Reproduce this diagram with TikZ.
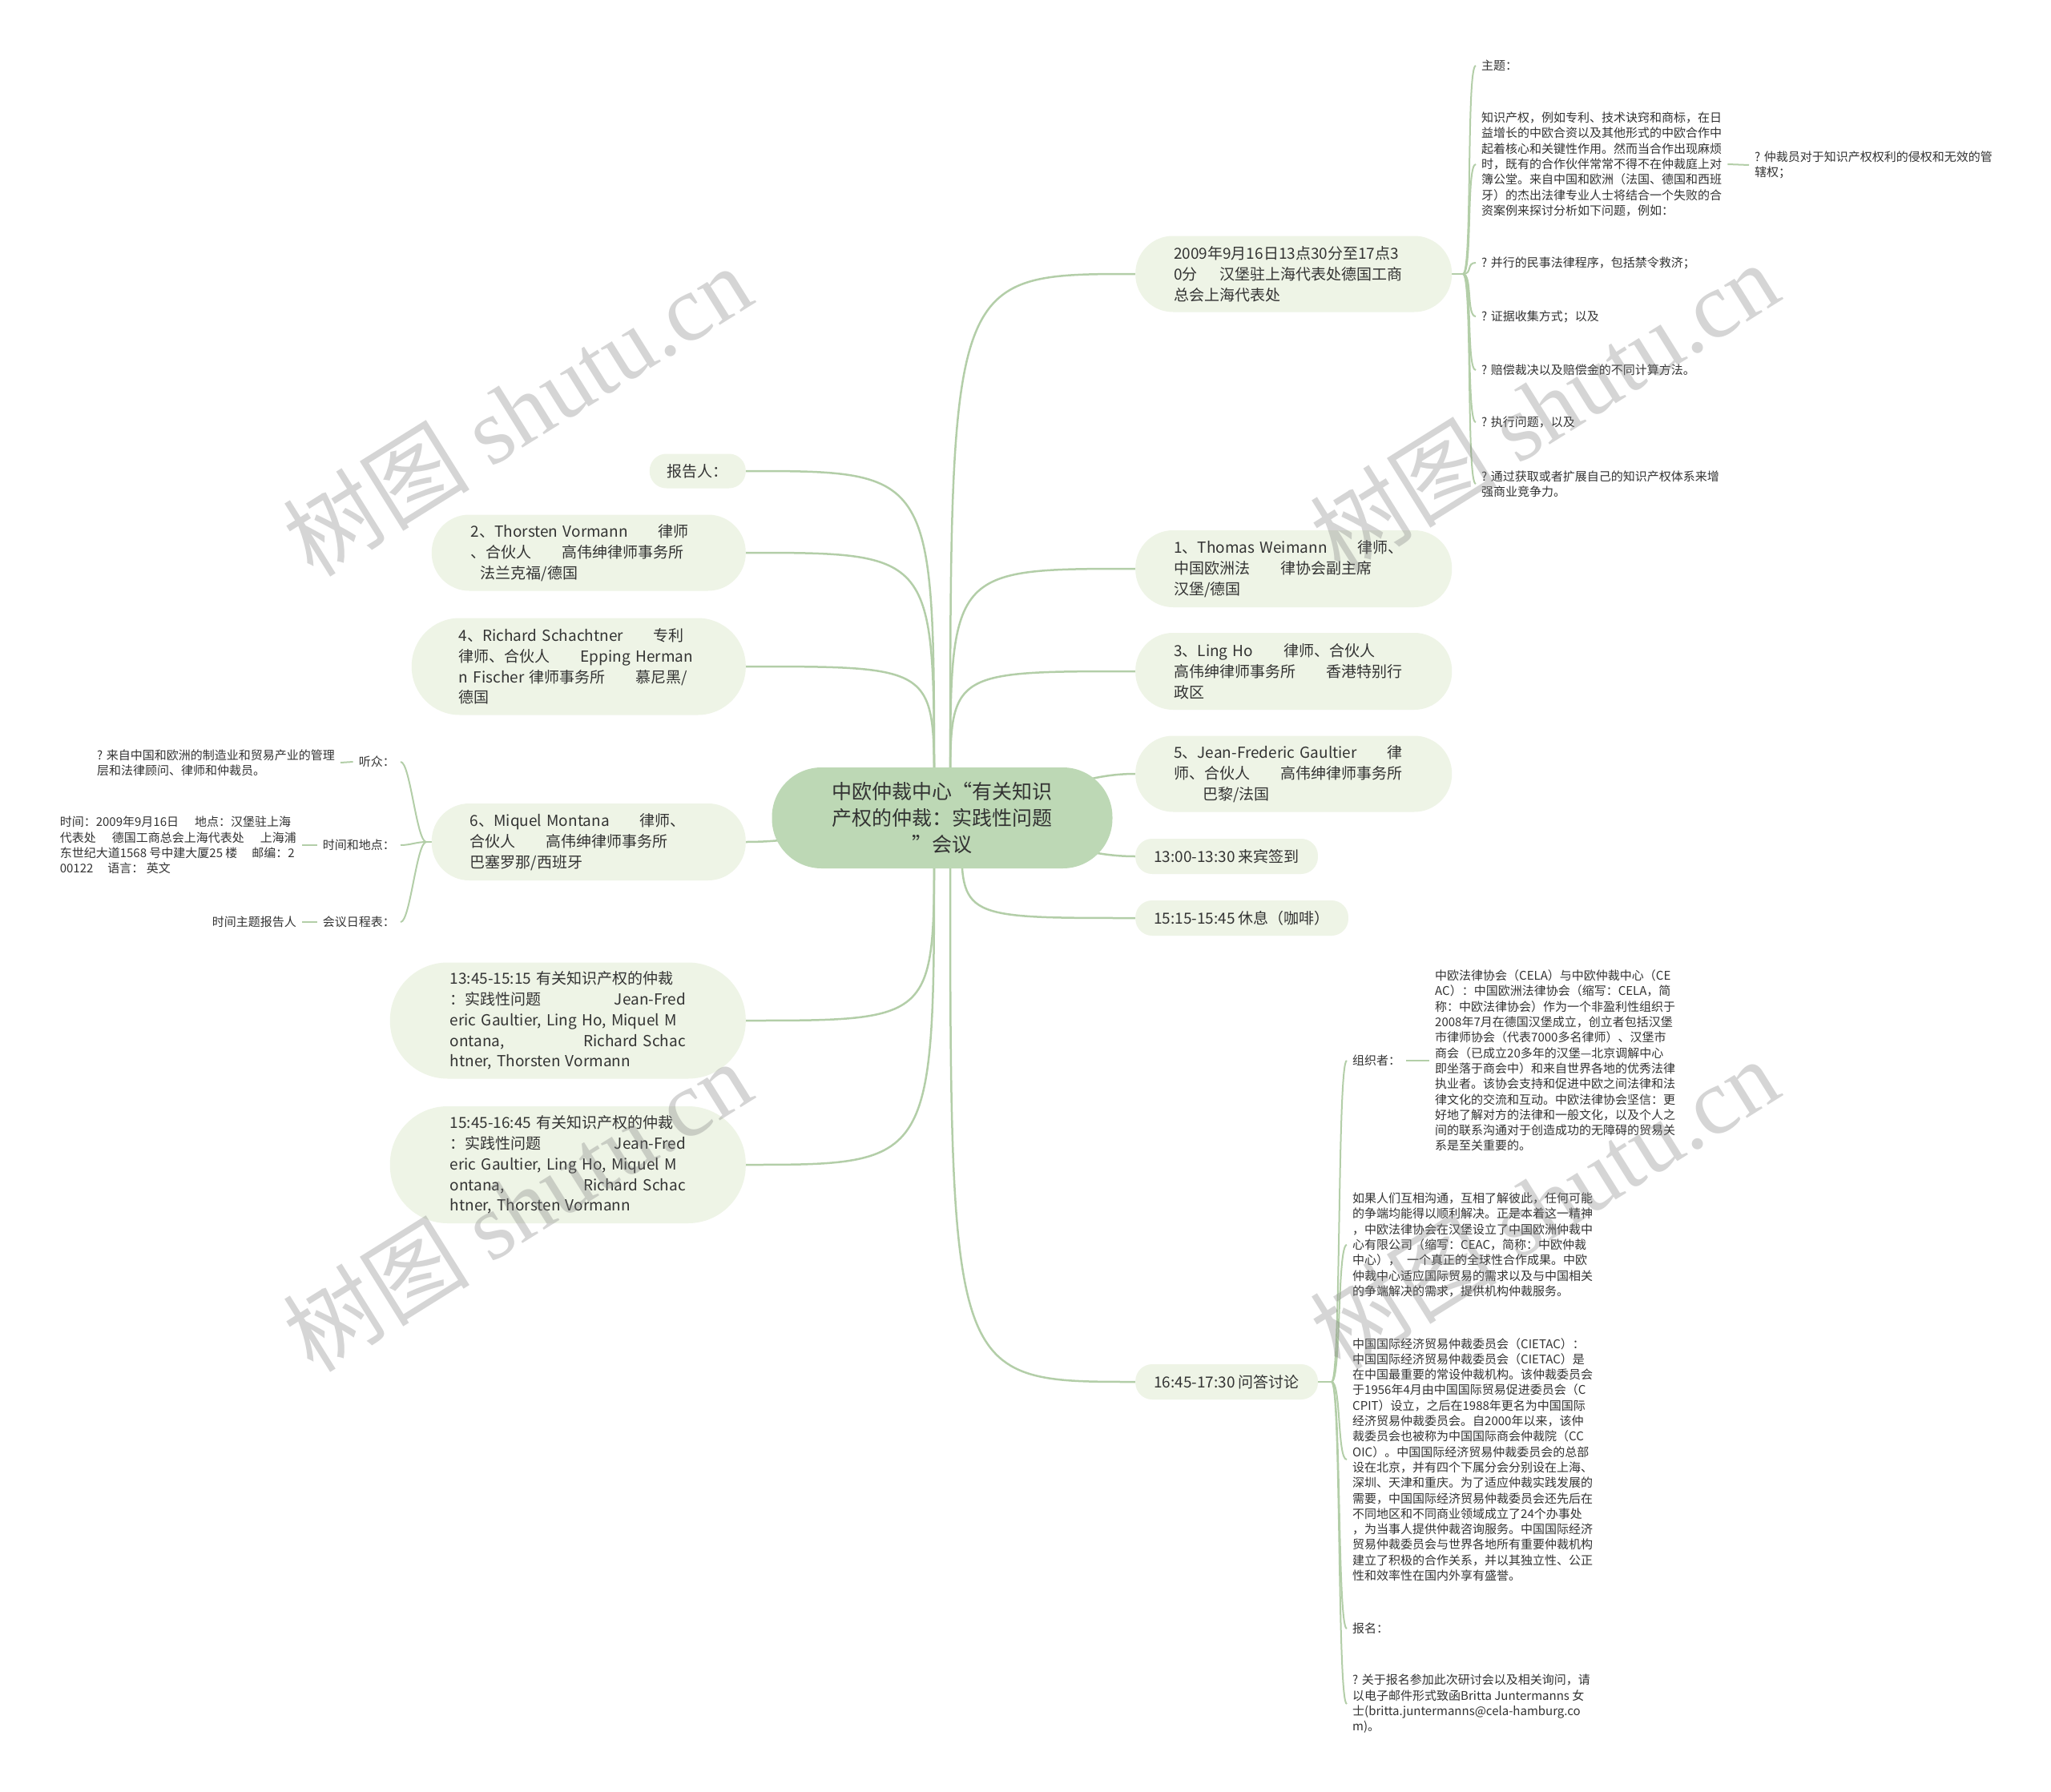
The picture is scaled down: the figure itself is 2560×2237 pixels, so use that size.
\documentclass[tikz,border=0pt]{standalone}
\usepackage{fontspec}
\setmainfont{Noto Sans CJK SC}
\newfontfamily\wmlat{Liberation Serif}
\usetikzlibrary{backgrounds}
\definecolor{rootfill}{HTML}{BDD8B5}
\definecolor{subfill}{HTML}{EEF4E6}
\definecolor{linkc}{HTML}{B3CEA8}
\definecolor{txt}{HTML}{333333}
\tikzset{
 rootbox/.style={fill=rootfill,rounded corners=62pt,minimum width=425pt,minimum height=126pt,align=center,text=txt,font=\fontsize{25}{33}\selectfont,inner sep=0pt},
 topicbox/.style={fill=subfill,text=txt,font=\fontsize{19}{25.8}\selectfont,align=left,inner ysep=2pt},
 leaf/.style={text=txt,font=\fontsize{15}{19.3}\selectfont,align=left,inner xsep=7pt,inner ysep=0pt},
 rootlink/.style={draw=linkc,line width=2.5pt},
 sublink/.style={draw=linkc,line width=2pt},
 wmark/.style={text=gray,opacity=0.33,rotate=32,font=\fontsize{117}{117}\selectfont,inner sep=0pt},
}
\begin{document}
\begin{tikzpicture}[x=1pt,y=-1pt]
\useasboundingbox (0,0) rectangle (2560,2237);
% root
\node[rootbox] (root) at (1176,1021) {中欧仲裁中心“有关知识\\产权的仲裁：实践性问题\\”会议};
% right topics
\node[topicbox,anchor=west,minimum height=95pt,rounded corners=47pt,inner xsep=48pt,text width=299pt] (r1) at (1417,342)
 {\mbox{2009年9月16日13点30分至17点3}\\\mbox{0分\hspace{28pt}汉堡驻上海代表处德国工商}\\\mbox{总会上海代表处}};
\node[topicbox,anchor=west,minimum height=96pt,rounded corners=47pt,inner xsep=48pt,text width=299pt] (r2) at (1417,710)
 {\mbox{1、Thomas Weimann　　律师、}\\\mbox{中国欧洲法　　律协会副主席}\\\mbox{汉堡/德国}};
\node[topicbox,anchor=west,minimum height=96pt,rounded corners=47pt,inner xsep=48pt,text width=299pt] (r3) at (1417,838)
 {\mbox{3、Ling Ho　　律师、合伙人}\\\mbox{高伟绅律师事务所　　香港特别行}\\\mbox{政区}};
\node[topicbox,anchor=west,minimum height=95pt,rounded corners=47pt,inner xsep=48pt,text width=299pt] (r4) at (1417,966)
 {\mbox{5、Jean-Frederic Gaultier　　律}\\\mbox{师、合伙人　　高伟绅律师事务所}\\\mbox{\hspace{36pt}巴黎/法国}};
\node[topicbox,anchor=west,minimum height=44pt,rounded corners=21pt,inner xsep=23pt] (r5) at (1417,1069) {13:00-13:30 来宾签到};
\node[topicbox,anchor=west,minimum height=44pt,rounded corners=21pt,inner xsep=23pt] (r6) at (1417,1146) {15:15-15:45 休息（咖啡）};
\node[topicbox,anchor=west,minimum height=44pt,rounded corners=21pt,inner xsep=23pt] (r7) at (1417,1725) {16:45-17:30 问答讨论};
% left topics
\node[topicbox,anchor=east,minimum height=43pt,rounded corners=21pt,inner xsep=22pt] (l1) at (931,588) {报告人：};
\node[topicbox,anchor=east,minimum height=95pt,rounded corners=47pt,inner xsep=49pt,text width=294pt] (l2) at (931,690)
 {\mbox{2、Thorsten Vormann　　律师}\\\mbox{、合伙人　　高伟绅律师事务所}\\\mbox{\hspace{12pt}法兰克福/德国}};
\node[topicbox,anchor=east,minimum height=121pt,rounded corners=60pt,inner xsep=59pt,text width=299pt] (l3) at (931,832)
 {\mbox{4、Richard Schachtner　　专利}\\\mbox{律师、合伙人　　Epping Herman}\\\mbox{n Fischer 律师事务所　　慕尼黑/}\\\mbox{德国}};
\node[topicbox,anchor=east,minimum height=96pt,rounded corners=47pt,inner xsep=48pt,text width=296pt] (l4) at (931,1051)
 {\mbox{6、Miquel Montana　　律师、}\\\mbox{合伙人　　高伟绅律师事务所}\\\mbox{巴塞罗那/西班牙}};
\node[topicbox,anchor=east,minimum height=145pt,rounded corners=72pt,inner xsep=75pt,text width=294pt] (l5) at (931,1274)
 {\mbox{13:45-15:15 有关知识产权的仲裁}\\\makebox[294pt][l]{：实践性问题\hfill Jean-Fred}\\\mbox{eric Gaultier, Ling Ho, Miquel M}\\\makebox[294pt][l]{ontana,\hfill Richard Schac}\\\mbox{htner, Thorsten Vormann}};
\node[topicbox,anchor=east,minimum height=146pt,rounded corners=72pt,inner xsep=75pt,text width=294pt] (l6) at (931,1454)
 {\mbox{15:45-16:45 有关知识产权的仲裁}\\\makebox[294pt][l]{：实践性问题\hfill Jean-Fred}\\\mbox{eric Gaultier, Ling Ho, Miquel M}\\\makebox[294pt][l]{ontana,\hfill Richard Schac}\\\mbox{htner, Thorsten Vormann}};
% right-top leaves
\node[leaf,anchor=west] (t0) at (1842,82) {主题：};
\node[leaf,anchor=west] (t1) at (1842,205) {知识产权，例如专利、技术诀窍和商标，在日\\益增长的中欧合资以及其他形式的中欧合作中\\起着核心和关键性作用。然而当合作出现麻烦\\时，既有的合作伙伴常常不得不在仲裁庭上对\\簿公堂。来自中国和欧洲（法国、德国和西班\\牙）的杰出法律专业人士将结合一个失败的合\\资案例来探讨分析如下问题，例如：};
\node[leaf,anchor=west] (t1a) at (2183,206) {? 仲裁员对于知识产权权利的侵权和无效的管\\辖权；};
\node[leaf,anchor=west] (t2) at (1842,328) {? 并行的民事法律程序，包括禁令救济；};
\node[leaf,anchor=west] (t3) at (1842,395) {? 证据收集方式；以及};
\node[leaf,anchor=west] (t4) at (1842,462) {? 赔偿裁决以及赔偿金的不同计算方法。};
\node[leaf,anchor=west] (t5) at (1842,527) {? 执行问题，以及};
\node[leaf,anchor=west] (t6) at (1842,604) {? 通过获取或者扩展自己的知识产权体系来增\\强商业竞争力。};
% bottom-right leaves
\node[leaf,anchor=west] (b0) at (1681,1324) {组织者：};
\node[leaf,anchor=west] (b0a) at (1784,1324) {中欧法律协会（CELA）与中欧仲裁中心（CE\\AC）：中国欧洲法律协会（缩写：CELA，简\\称：中欧法律协会）作为一个非盈利性组织于\\2008年7月在德国汉堡成立，创立者包括汉堡\\市律师协会（代表7000多名律师）、汉堡市\\商会（已成立20多年的汉堡—北京调解中心\\即坐落于商会中）和来自世界各地的优秀法律\\执业者。该协会支持和促进中欧之间法律和法\\律文化的交流和互动。中欧法律协会坚信：更\\好地了解对方的法律和一般文化，以及个人之\\间的联系沟通对于创造成功的无障碍的贸易关\\系是至关重要的。};
\node[leaf,anchor=west] (b1) at (1681,1554) {如果人们互相沟通，互相了解彼此，任何可能\\的争端均能得以顺利解决。正是本着这一精神\\，中欧法律协会在汉堡设立了中国欧洲仲裁中\\心有限公司（缩写：CEAC，简称：中欧仲裁\\中心），\hspace{8pt}一个真正的全球性合作成果。中欧\\仲裁中心适应国际贸易的需求以及与中国相关\\的争端解决的需求，提供机构仲裁服务。};
\node[leaf,anchor=west] (b2) at (1681,1822) {中国国际经济贸易仲裁委员会（CIETAC）：\\中国国际经济贸易仲裁委员会（CIETAC）是\\在中国最重要的常设仲裁机构。该仲裁委员会\\于1956年4月由中国国际贸易促进委员会（C\\CPIT）设立，之后在1988年更名为中国国际\\经济贸易仲裁委员会。自2000年以来，该仲\\裁委员会也被称为中国国际商会仲裁院（CC\\OIC）。中国国际经济贸易仲裁委员会的总部\\设在北京，并有四个下属分会分别设在上海、\\深圳、天津和重庆。为了适应仲裁实践发展的\\需要，中国国际经济贸易仲裁委员会还先后在\\不同地区和不同商业领域成立了24个办事处\\，为当事人提供仲裁咨询服务。中国国际经济\\贸易仲裁委员会与世界各地所有重要仲裁机构\\建立了积极的合作关系，并以其独立性、公正\\性和效率性在国内外享有盛誉。};
\node[leaf,anchor=west] (b3) at (1681,2033) {报名：};
\node[leaf,anchor=west] (b4) at (1681,2127) {? 关于报名参加此次研讨会以及相关询问，请\\以电子邮件形式致函Britta Juntermanns 女\\士(britta.juntermanns@cela-hamburg.co\\m)。};
% left leaves
\node[leaf,anchor=east] (m1) at (500,951) {听众：};
\node[leaf,anchor=east] (m1a) at (425,952) {? 来自中国和欧洲的制造业和贸易产业的管理\\层和法律顾问、律师和仲裁员。};
\node[leaf,anchor=east] (m2) at (500,1055) {时间和地点：};
\node[leaf,anchor=east] (m2a) at (377,1055) {时间：2009年9月16日\hspace{20pt}地点：汉堡驻上海\\代表处\hspace{20pt}德国工商总会上海代表处\hspace{20pt}上海浦\\东世纪大道1568 号中建大厦25 楼\hspace{18pt}邮编：2\\00122\hspace{18pt}语言： 英文};
\node[leaf,anchor=east] (m3) at (500,1151) {会议日程表：};
\node[leaf,anchor=east] (m3a) at (377,1151) {时间主题报告人};
% junctions and origins
\coordinate (oTR) at (1186,985);
\coordinate (oTL) at (1166,985);
\coordinate (oBR) at (1186,1055);
\coordinate (oBL) at (1166,1055);
\coordinate (oB6) at (1200,1040);
\coordinate (j1) at (1826,342);
\coordinate (j7) at (1662,1725);
\coordinate (j4) at (532,1051);
\begin{pgfonlayer}{background}
\fill[white] (0,0) rectangle (2560,2237);
\draw[rootlink] (oTR) .. controls (oTR |- r1.west) .. (r1.west);
\draw[rootlink] (oTR) .. controls (oTR |- r2.west) .. (r2.west);
\draw[rootlink] (oTR) .. controls (oTR |- r3.west) .. (r3.west);
\draw[rootlink] (root.center) to[out=0,in=180] (r4.west);
\draw[rootlink] (root.center) to[out=0,in=180] (r5.west);
\draw[rootlink] (oB6) .. controls (oB6 |- r6.west) .. (r6.west);
\draw[rootlink] (oBR) .. controls (oBR |- r7.west) .. (r7.west);
\draw[rootlink] (oTL) .. controls (oTL |- l1.east) .. (l1.east);
\draw[rootlink] (oTL) .. controls (oTL |- l2.east) .. (l2.east);
\draw[rootlink] (oTL) .. controls (oTL |- l3.east) .. (l3.east);
\draw[rootlink] (root.center) to[out=180,in=0] (l4.east);
\draw[rootlink] (oBL) .. controls (oBL |- l5.east) .. (l5.east);
\draw[rootlink] (oBL) .. controls (oBL |- l6.east) .. (l6.east);
% braces
\draw[sublink] (r1.east) -- (j1);
\foreach \c in {t0,t1,t2,t3,t4,t5,t6} \draw[sublink] (j1) .. controls +(12,0) and +(-12,0) .. (\c.west);
\draw[sublink] (r7.east) -- (j7);
\foreach \c in {b0,b1,b2,b3,b4} \draw[sublink] (j7) .. controls +(12,0) and +(-12,0) .. (\c.west);
\draw[sublink] (l4.west) -- (j4);
\foreach \c in {m1,m2,m3} \draw[sublink] (j4) .. controls +(-12,0) and +(12,0) .. (\c.east);
% leaf links
\draw[sublink] (t1.east) -- (t1a.west);
\draw[sublink] (b0.east) -- (b0a.west);
\draw[sublink] (m1a.east) -- (m1.west);
\draw[sublink] (m2a.east) -- (m2.west);
\draw[sublink] (m3a.east) -- (m3.west);
\end{pgfonlayer}
% watermarks
\node[wmark] (wm1) at (645,512) {树图 {\wmlat shutu.cn}};
\node[wmark] (wm2) at (1927,508) {树图 {\wmlat shutu.cn}};
\node[wmark] (wm3) at (645,1505) {树图 {\wmlat shutu.cn}};
\node[wmark] (wm4) at (1927,1502) {树图 {\wmlat shutu.cn}};
\end{tikzpicture}
\end{document}
